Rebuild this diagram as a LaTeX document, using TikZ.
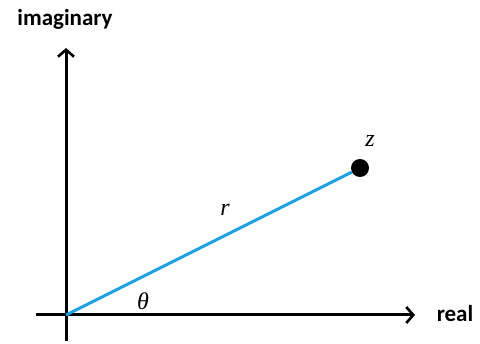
\documentclass[tikz,border=0pt]{standalone}
\usepackage{fontspec}
\setmainfont{Liberation Serif}
\newfontfamily\etiqfont{Carlito}
\usepackage{tikz}
\usetikzlibrary{arrows.meta, positioning}
\definecolor{azul}{RGB}{27,161,226}

\begin{document}
\begin{tikzpicture}[x=1pt, y=-1pt,
      eje/.style={line width=3pt, -{Straight Barb[length=7pt, width=16pt, line width=2.6pt]}},
      etiqueta/.style={font=\etiqfont\bfseries\fontsize{23}{26}\selectfont, inner sep=0pt},
      simbolo/.style={font=\fontsize{24}{28}\selectfont\itshape, inner sep=0pt},
      punto/.style={circle, fill=black, minimum size=18pt, inner sep=0pt}]
    \useasboundingbox (0,0) rectangle (480,344);
    \coordinate (origen) at (66,315);
    \coordinate (abajo) at (66,341);
    \coordinate (izq) at (36,315);
    \coordinate (arriba) at (66,48);
    \coordinate (der) at (415,315);
    \draw[eje] (abajo) -- (arriba);
    \draw[eje] (izq) -- (der);
    \node[etiqueta] (imag) at (65,19) {imaginary};
    \node[etiqueta] (real) at (455,314) {real};
    \node[punto] (z) at (360,168) {};
    \draw[azul, line width=3pt] (origen) -- (z);
    \node[simbolo, above=12pt of z.north, xshift=10pt] (etiqz) {z};
    \node[simbolo] (radio) at (225,210) {r};
    \node[simbolo] (angulo) at (143,301) {θ};
  \end{tikzpicture}
\end{document}
